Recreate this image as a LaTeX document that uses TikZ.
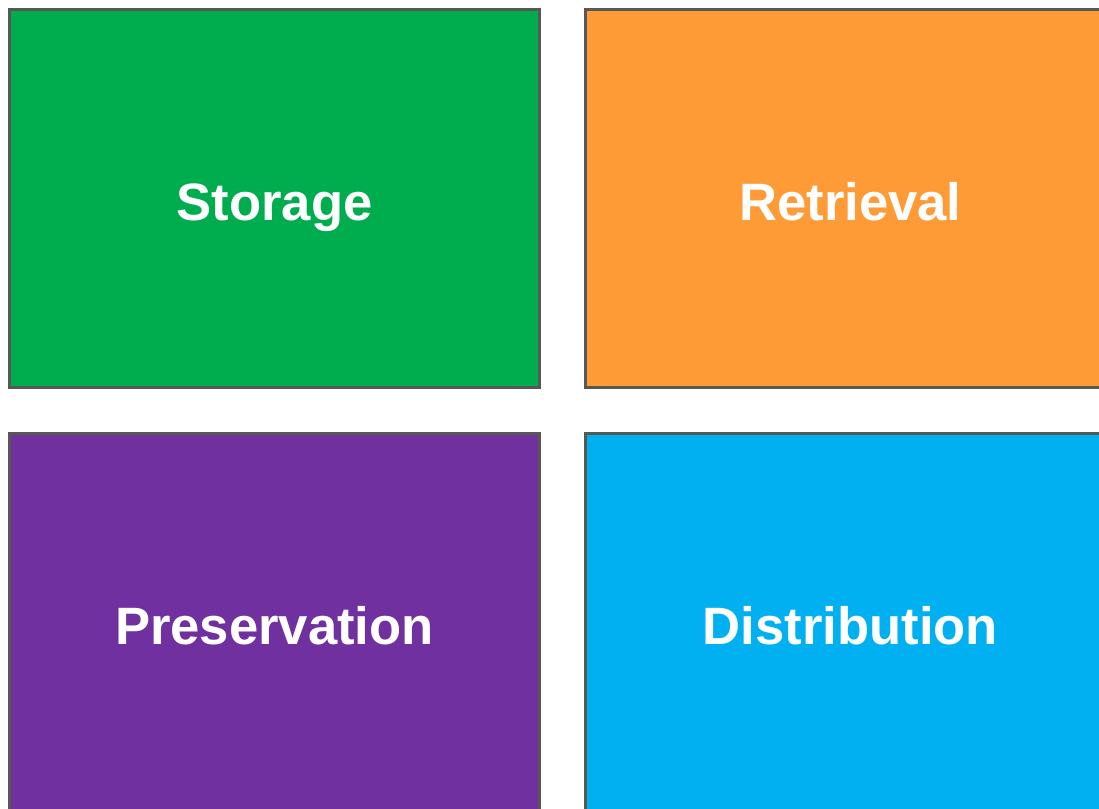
\documentclass[tikz,border=0pt]{standalone}
\usepackage{fontspec}
\setmainfont{Liberation Sans}
\usetikzlibrary{positioning}
\definecolor{stgreen}{HTML}{00AD4E}
\definecolor{rtorange}{HTML}{FF9B37}
\definecolor{prpurple}{HTML}{7030A0}
\definecolor{dsblue}{HTML}{00B0F0}
\definecolor{boxline}{HTML}{575753}
\tikzset{
  block/.style={rectangle, draw=boxline, line width=3pt, outer sep=0pt,
    minimum width=530pt, minimum height=378pt, text=white,
    text height=43pt, text depth=0pt,
    font=\bfseries\fontsize{52.6}{60}\selectfont}
}

\begin{document}
\begin{tikzpicture}
      \clip (0pt,0pt) rectangle (1099pt,-808pt);
      \node[block, fill=stgreen] (storage) at (274.5pt,-198.5pt) {Storage};
      \node[block, fill=rtorange, right=46pt of storage] (retrieval) {Retrieval};
      \node[block, fill=prpurple, below=46pt of storage] (preservation) {Preservation};
      \node[block, fill=dsblue, right=46pt of preservation] (distribution) {Distribution};
    \end{tikzpicture}
\end{document}
